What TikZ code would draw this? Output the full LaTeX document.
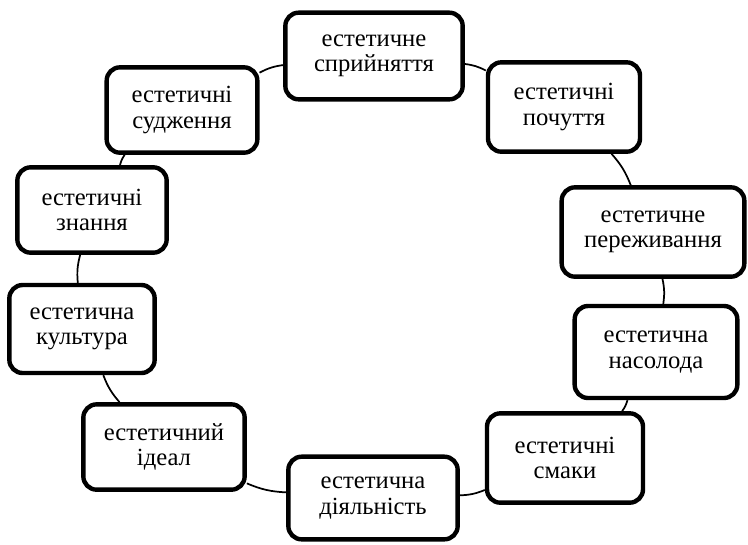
\documentclass[tikz,border=0pt]{standalone}
\usepackage{fontspec}
\setmainfont{Liberation Serif}
\usepackage{tikz}

\tikzset{riquadro/.style={draw, line width=3.3pt, rounded corners=10pt, fill=white, align=center, inner sep=2pt, font=\fontsize{18.5}{19}\selectfont},
	collega/.style={line width=1.3pt, black}}

\begin{document}
\begin{tikzpicture}[x=0.75pt, y=-0.75pt]
	\useasboundingbox (0,0) rectangle (748,544);
	%Sprijnjattja
	\node [riquadro, minimum width=133pt, minimum height=65pt] (sprij) at (374,56) {естетичне\\сприйняття};
	%Pochuttja
	\node [riquadro, minimum width=114pt, minimum height=67pt] (pochut) at (564,107) {естетичні\\почуття};
	%Perezhyvannja
	\node [riquadro, minimum width=137pt, minimum height=67pt] (perezh) at (653,232) {естетичне\\переживання};
	%Nasoloda
	\node [riquadro, minimum width=122pt, minimum height=69pt] (nasol) at (656,352) {естетична\\насолода};
	%Smaky
	\node [riquadro, minimum width=117pt, minimum height=67pt] (smaky) at (565,458) {естетичні\\смаки};
	%Dijalnist
	\node [riquadro, minimum width=127pt, minimum height=62pt] (dijal) at (373,498) {естетична\\діяльність};
	%Ideal
	\node [riquadro, minimum width=121pt, minimum height=64pt] (ideal) at (164,447) {естетичний\\ідеал};
	%Kultura
	\node [riquadro, minimum width=109pt, minimum height=66pt] (kult) at (82,329) {естетична\\культура};
	%Znannja
	\node [riquadro, minimum width=112pt, minimum height=64pt] (znan) at (92,210) {естетичні\\знання};
	%Sudzhennja
	\node [riquadro, minimum width=113pt, minimum height=64pt] (sudzh) at (182,110) {естетичні\\судження};
	%Collegamenti
	\draw [collega] (sprij) to [bend left=10] (pochut);
	\draw [collega] (pochut) to [bend left=10] (perezh);
	\draw [collega] (perezh) to [bend left=10] (nasol);
	\draw [collega] (nasol) to [bend left=10] (smaky);
	\draw [collega] (smaky) to [bend left=10] (dijal);
	\draw [collega] (dijal) to [bend left=10] (ideal);
	\draw [collega] (ideal) to [bend left=10] (kult);
	\draw [collega] (kult) to [bend left=10] (znan);
	\draw [collega] (znan) to [bend left=10] (sudzh);
	\draw [collega] (sudzh) to [bend left=10] (sprij);
\end{tikzpicture}
\end{document}
